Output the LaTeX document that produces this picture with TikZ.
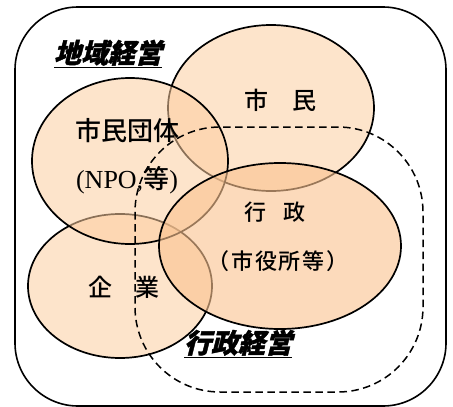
\documentclass[tikz,border=0pt]{standalone}
\usepackage{fontspec}
\setmainfont{Liberation Serif}
\newfontfamily\cjk{Noto Sans CJK JP Medium}
\newfontfamily\cjkhead[FakeSlant=0.25,FakeBold=1.5]{Noto Sans CJK JP Black}
\usetikzlibrary{shapes.geometric}

\begin{document}
\begin{tikzpicture}[x=1pt,y=-1pt,
    blob/.style={ellipse,draw,line width=1.7pt,inner sep=0pt,
      fill={rgb,255:red,252;green,205;blue,160},fill opacity=0.55},
    heading/.style={anchor=base,font=\cjkhead\fontsize{27}{27}\selectfont}]
  \useasboundingbox (0,0) rectangle (453,407);
  \draw[line width=1.6pt,rounded corners=63pt] (15,7) rectangle (446,406);
  % the four actors
  \node[blob,minimum width=206pt,minimum height=166pt] (shimin) at (271,108) {};
  \node[blob,minimum width=184pt,minimum height=144pt] (kigyo)  at (120,286) {};
  \node[blob,minimum width=196pt,minimum height=166pt] (dantai) at (130,161) {};
  \node[blob,minimum width=242pt,minimum height=166pt,
    fill={rgb,255:red,250;green,195;blue,145},fill opacity=0.62] (gyosei) at (280,246) {};
  % area of the city administration
  \draw[dashed,dash pattern=on 7.5pt off 4.5pt,line width=1.5pt,rounded corners=85pt]
    (135,127) rectangle (423,392);
  % labels
  \node[font=\cjk\fontsize{24}{24}\selectfont] (shiminlbl) at (280,100) {市　民};
  \node[font=\fontsize{26}{48}\selectfont,align=center] (dantailbl) at (127,156)
    {{\cjk 市民団体}\\(NPO,{\cjk 等})};
  \node[font=\cjk\fontsize{22}{22}\selectfont] (gyoseilbl) at (275,212) {行\hspace{17pt}政};
  \node[font=\cjk\fontsize{22}{22}\selectfont\addfontfeature{LetterSpace=8}]
    (yakushilbl) at (278,261) {（市役所等）};
  \node[font=\cjk\fontsize{24}{24}\selectfont] (kigyolbl) at (124,287) {企　業};
  \node[heading] (chiiki) at (108,63) {\underline{地域経営}};
  \node[heading] (gyoseikeiei) at (238,353) {\underline{行政経営}};
\end{tikzpicture}
\end{document}
